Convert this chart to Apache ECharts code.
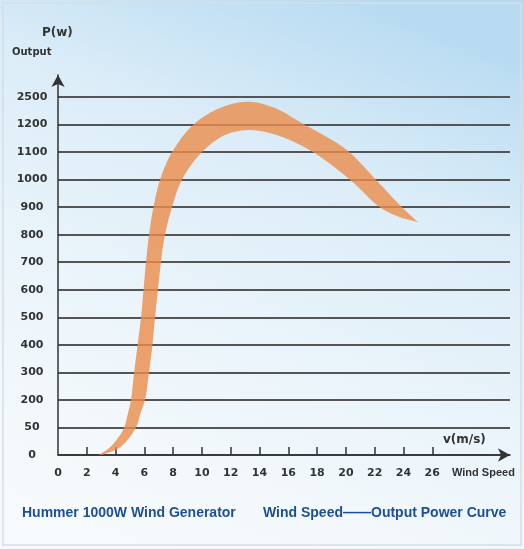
<!DOCTYPE html>
<html>
<head>
<meta charset="utf-8">
<script src="https://cdn.jsdelivr.net/npm/echarts@6/dist/echarts.min.js"></script>
<style>html,body{margin:0;padding:0;background:#fff}#c{width:524px;height:549px}</style>
</head>
<body>
<div id="c"></div>
<script>
// Axis tick labels
const speedTicks = [0, 2, 4, 6, 8, 10, 12, 14, 16, 18, 20, 22, 24, 26];
const powerTicks = [0, 50, 200, 300, 400, 500, 600, 700, 800, 900, 1000, 1100, 1200, 2500];

// Upper/left edge of the output band (wind speed m/s, power W as read on the axis)
const outerSpeed = [2.85, 3.61, 4.51, 4.86, 5.07, 5.28, 5.52, 5.76, 5.94, 6.11, 6.32, 6.63, 7.08, 7.92, 9.44, 11.25, 13.19, 15.07, 16.81, 20.0, 22.08, 23.89, 25.0];
const outerPower = [0, 14, 45, 128, 200, 298, 396, 497, 599, 700, 799, 900, 998, 1100, 1220, 1980, 2280, 1980, 1317, 1110, 1000, 900, 846];
// Lower/right edge of the band, from the right tip back to the start
const innerSpeed = [23.75, 22.36, 20.28, 17.71, 15.42, 13.33, 11.6, 10.0, 8.61, 7.92, 7.43, 7.15, 6.94, 6.74, 6.56, 6.32, 6.04, 5.73, 5.42, 4.31, 3.06];
const innerPower = [864, 900, 1000, 1100, 1158, 1180, 1162, 1100, 1000, 900, 800, 700, 600, 500, 400, 300, 200, 128, 50, 14, 0];

// map a power reading onto the evenly spaced (non-linear) axis levels
function powerToLevel(p) {
  for (let i = 0; i < powerTicks.length - 1; i++) {
    if (p <= powerTicks[i + 1]) {
      return i + (p - powerTicks[i]) / (powerTicks[i + 1] - powerTicks[i]);
    }
  }
  return powerTicks.length - 1;
}
const levels = powerTicks.map((_, i) => i);

// centripetal Catmull-Rom through pixel points (curve rendering only)
function spline(pts, steps) {
  const out = [];
  const n = pts.length;
  const P = i => pts[Math.max(0, Math.min(n - 1, i))];
  function tj(ti, a, b) {
    const d = Math.hypot(b[0] - a[0], b[1] - a[1]);
    return ti + Math.max(Math.sqrt(d), 1e-3);
  }
  for (let i = 0; i < n - 1; i++) {
    let p0 = P(i - 1), p1 = P(i), p2 = P(i + 1), p3 = P(i + 2);
    if (i === 0) p0 = [2 * p1[0] - p2[0], 2 * p1[1] - p2[1]];
    if (i === n - 2) p3 = [2 * p2[0] - p1[0], 2 * p2[1] - p1[1]];
    const t0 = 0, t1 = tj(t0, p0, p1), t2 = tj(t1, p1, p2), t3 = tj(t2, p2, p3);
    for (let s = 0; s < steps; s++) {
      const t = t1 + (t2 - t1) * s / steps;
      const lerp = (a, b, ta, tb) => [
        ((tb - t) * a[0] + (t - ta) * b[0]) / (tb - ta),
        ((tb - t) * a[1] + (t - ta) * b[1]) / (tb - ta)];
      const A1 = lerp(p0, p1, t0, t1), A2 = lerp(p1, p2, t1, t2), A3 = lerp(p2, p3, t2, t3);
      const B1 = lerp(A1, A2, t0, t2), B2 = lerp(A2, A3, t1, t3);
      out.push(lerp(B1, B2, t1, t2));
    }
  }
  out.push(pts[n - 1]);
  return out;
}

const chart = echarts.init(document.getElementById('c'));
const FONT = '"DejaVu Sans", sans-serif';
const titleFont = '"Liberation Sans", Arial, sans-serif';

chart.setOption({
  animation: false,
  graphic: [
    { type: 'rect', z: -10, silent: true, shape: { x: 0, y: 0, width: 524, height: 549 },
      style: { fill: { type: 'linear', x: 0.3, y: 1, x2: 0.7, y2: 0, colorStops: [
        { offset: 0, color: '#f7fafc' }, { offset: 0.3, color: '#eef6fb' },
        { offset: 0.7, color: '#dcedf8' }, { offset: 1, color: '#b8dbf2' } ] } } },
    { type: 'rect', z: -9, silent: true, shape: { x: 3, y: 3, width: 518, height: 542 },
      style: { fill: 'none', stroke: '#d5dee5', lineWidth: 1.5 } },
    { type: 'text', left: 42, top: 27, style: { text: 'P(w)', font: 'bold 12px ' + FONT, fill: '#333' } },
    { type: 'text', left: 12, top: 47, style: { text: 'Output', font: 'bold 10px ' + FONT, fill: '#333' } },
    { type: 'text', left: 443, top: 434, style: { text: 'v(m/s)', font: 'bold 12px ' + FONT, fill: '#333' } },
    { type: 'text', left: 452, top: 467, style: { text: 'Wind Speed', font: 'bold 11px ' + titleFont, fill: '#333' } },
    { type: 'text', left: 22, top: 506, style: { text: 'Hummer 1000W Wind Generator', font: 'bold 14px ' + titleFont, fill: '#1d4f96' } },
    { type: 'text', left: 263, top: 506, style: { text: 'Wind Speed\u2014\u2014Output Power Curve', font: 'bold 14px ' + titleFont, fill: '#1d4f96' } }
  ],
  grid: { left: 58, right: 14, top: 75, bottom: 94 },
  xAxis: {
    type: 'value', min: 0, max: 31.4,
    axisLine: { show: true, lineStyle: { color: '#333', width: 1.5 }, symbol: ['none', 'arrow'], symbolSize: [10, 12] },
    axisTick: { show: true, inside: true, length: 8, customValues: speedTicks.slice(1), lineStyle: { color: '#333', width: 1.5 } },
    axisLabel: { customValues: speedTicks, margin: 13, color: '#333', fontFamily: FONT, fontWeight: 'bold', fontSize: 11 },
    splitLine: { show: false }
  },
  yAxis: {
    type: 'value', min: 0, max: 13.8,
    axisLine: { show: true, lineStyle: { color: '#333', width: 1.5 }, symbol: ['none', 'arrow'], symbolSize: [10, 12] },
    axisTick: { show: false, customValues: levels },
    axisLabel: { customValues: levels, formatter: v => String(powerTicks[Math.round(v)]), align: 'center', margin: 26,
      color: '#333', fontFamily: FONT, fontWeight: 'bold', fontSize: 11 },
    splitLine: { show: true, lineStyle: { color: '#555', width: 2 } }
  },
  series: [{
    type: 'custom',
    coordinateSystem: 'cartesian2d',
    data: [[0, 0]],
    z: 5,
    renderItem: function (params, api) {
      const outer = outerSpeed.map((v, i) => api.coord([v, powerToLevel(outerPower[i])]));
      const inner = innerSpeed.map((v, i) => api.coord([v, powerToLevel(innerPower[i])]));
      // inner edge starts at the right tip (last outer point)
      const innerFull = [outer[outer.length - 1]].concat(inner);
      const pts = spline(outer, 12).concat(spline(innerFull, 12).slice(1, -1));
      return { type: 'polygon', shape: { points: pts }, style: { fill: 'rgba(235,140,74,0.8)', stroke: 'none' } };
    }
  }]
});
</script>
</body>
</html>
